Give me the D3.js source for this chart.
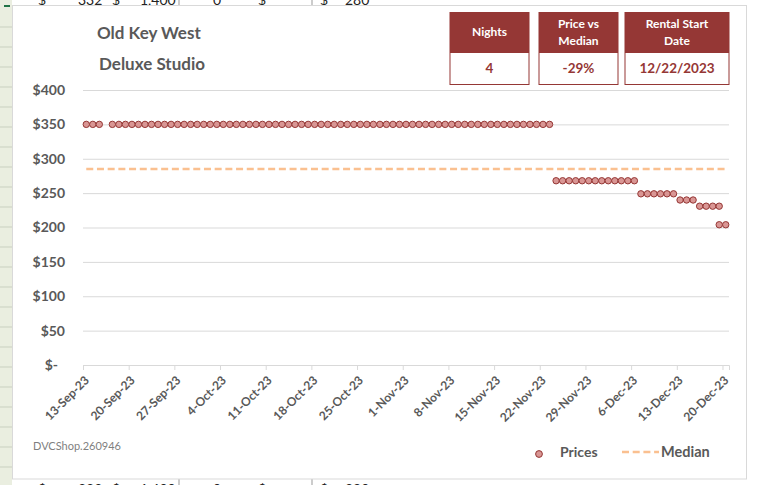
<!DOCTYPE html>
<html>
<head>
<meta charset="utf-8">
<script src="https://cdn.jsdelivr.net/npm/d3@7"></script>
<style>
  body { margin: 0; background: #fff; }
  svg { display: block; font-family: Lato, "Open Sans", sans-serif; }
</style>
</head>
<body>
<div id="chart"></div>
<script>
// data
var dates = [
  "09-13","09-14","09-15","09-17","09-18","09-19","09-20","09-21","09-22","09-23",
  "09-24","09-25","09-26","09-27","09-28","09-29","09-30","10-01","10-02","10-03",
  "10-04","10-05","10-06","10-07","10-08","10-09","10-10","10-11","10-12","10-13",
  "10-14","10-15","10-16","10-17","10-18","10-19","10-20","10-21","10-22","10-23",
  "10-24","10-25","10-26","10-27","10-28","10-29","10-30","10-31","11-01","11-02",
  "11-03","11-04","11-05","11-06","11-07","11-08","11-09","11-10","11-11","11-12",
  "11-13","11-14","11-15","11-16","11-17","11-18","11-19","11-20","11-21","11-22",
  "11-23","11-24","11-25","11-26","11-27","11-28","11-29","11-30","12-01","12-02",
  "12-03","12-04","12-05","12-06","12-07","12-08","12-09","12-10","12-11","12-12",
  "12-13","12-14","12-15","12-16","12-17","12-18","12-19","12-19","12-20"
];
var prices = [
  350,350,350,350,350,350,350,350,350,350,
  350,350,350,350,350,350,350,350,350,350,
  350,350,350,350,350,350,350,350,350,350,
  350,350,350,350,350,350,350,350,350,350,
  350,350,350,350,350,350,350,350,350,350,
  350,350,350,350,350,350,350,350,350,350,
  350,350,350,350,350,350,350,350,350,350,
  350,268,268,268,268,268,268,268,268,268,
  268,268,268,268,249,249,249,249,249,249,
  240,240,240,231,231,231,231,204,204
];
var medianPrice = 285;

var xTickLabels = ["13-Sep-23","20-Sep-23","27-Sep-23","4-Oct-23","11-Oct-23","18-Oct-23","25-Oct-23",
  "1-Nov-23","8-Nov-23","15-Nov-23","22-Nov-23","29-Nov-23","6-Dec-23","13-Dec-23","20-Dec-23"];
var yTicks = [0, 50, 100, 150, 200, 250, 300, 350, 400];
var yTickLabels = ["$-", "$50", "$100", "$150", "$200", "$250", "$300", "$350", "$400"];

var infoHeaders = [["Nights"], ["Price vs", "Median"], ["Rental Start", "Date"]];
var infoValues = ["4", "-29%", "12/22/2023"];

var parseDay = d3.utcParse("%Y-%m-%d");
var parseTick = d3.utcParse("%d-%b-%y");
var points = dates.map(function(d, i) {
  return { date: d3.utcHour.offset(parseDay("2023-" + d), 12), value: prices[i] };
});

var W = 757, H = 485;
var svg = d3.select("#chart").append("svg")
  .attr("width", W).attr("height", H);

// spreadsheet behind the chart
svg.append("rect").attr("width", W).attr("height", H).attr("fill", "#fff");
svg.append("rect").attr("x", 0).attr("y", 0).attr("width", 12).attr("height", H).attr("fill", "#eaeee0");
for (var ry = 27; ry < H; ry += 20) {
  svg.append("line").attr("x1", 0).attr("x2", 12).attr("y1", ry).attr("y2", ry)
    .attr("stroke", "#c9d0c0");
}
svg.append("rect").attr("x", 4).attr("y", 5).attr("width", 6).attr("height", 2).attr("fill", "#217346");

var cells = [["$", 38], ["332", 78], ["$", 112], ["1,400", 140], ["0", 213], ["$", 258], ["$", 320], ["280", 345]];
[5, 494].forEach(function(base) {
  cells.forEach(function(c) {
    svg.append("text").attr("x", c[1]).attr("y", base)
      .style("font-size", "14px").attr("fill", "#222").text(c[0]);
  });
  [179, 312].forEach(function(vx) {
    svg.append("line").attr("x1", vx).attr("x2", vx)
      .attr("y1", base < 100 ? 0 : 479).attr("y2", base < 100 ? 5 : H)
      .attr("stroke", "#999");
  });
});

// chart frame
svg.append("rect").attr("x", 12.5).attr("y", 5.5).attr("width", 734).attr("height", 473.5)
  .attr("fill", "#fff").attr("stroke", "#d9d9d9");

// scales
var x = d3.scaleUtc()
  .domain([parseDay("2023-09-13"), parseDay("2023-12-21")])
  .range([83, 729]);
var y = d3.scaleLinear().domain([0, 400]).range([365, 90]);

// gridlines
svg.append("g")
  .attr("class", "grid")
  .attr("transform", "translate(83,0)")
  .call(d3.axisLeft(y).tickValues(yTicks.slice(1)).tickSize(-(729 - 83)).tickFormat(""))
  .call(function(g) { g.select(".domain").remove(); });
svg.selectAll(".grid line").attr("stroke", "#d9d9d9");

// y labels
svg.append("g").selectAll("text")
  .data(yTicks)
  .join("text")
    .attr("x", function(d) { return d === 0 ? 58 : 65; })
    .attr("y", function(d) { return y(d); })
    .attr("dy", "0.35em")
    .attr("text-anchor", "end")
    .attr("fill", "#595959")
    .style("font-size", "14px").style("font-weight", "bold")
    .text(function(d, i) { return yTickLabels[i]; });

// x axis
var tickDates = xTickLabels.map(function(t) { return parseTick(t); });
var xAxis = svg.append("g")
  .attr("transform", "translate(0,365)")
  .call(d3.axisBottom(x).tickValues(tickDates).tickSize(5).tickFormat(""));
xAxis.selectAll("line, path").attr("stroke", "#d9d9d9");

svg.append("g").selectAll("text")
  .data(tickDates)
  .join("text")
    .attr("transform", function(d) { return "translate(" + (x(d) + 4) + ",378) rotate(-45)"; })
    .attr("dy", "0.35em")
    .attr("text-anchor", "end")
    .attr("fill", "#595959")
    .style("font-size", "12px").style("font-weight", "bold")
    .text(function(d, i) { return xTickLabels[i]; });

// median line
svg.append("path")
  .datum(points)
  .attr("fill", "none")
  .attr("stroke", "#fac090")
  .attr("stroke-width", 2.5)
  .attr("stroke-dasharray", "7,3.7")
  .attr("d", d3.line()
    .x(function(d) { return x(d.date); })
    .y(function() { return y(medianPrice); }));

// price markers
svg.append("g").selectAll("circle")
  .data(points)
  .join("circle")
    .attr("cx", function(d) { return x(d.date); })
    .attr("cy", function(d) { return y(d.value); })
    .attr("r", 3.2)
    .attr("fill", "#d99694")
    .attr("stroke", "#953735")
    .attr("stroke-width", 1);

// titles
svg.append("text").attr("x", 97).attr("y", 39)
  .attr("fill", "#595959").style("font-size", "17px").style("font-weight", "bold")
  .text("Old Key West");
svg.append("text").attr("x", 99).attr("y", 70)
  .attr("fill", "#595959").style("font-size", "17px").style("font-weight", "bold")
  .text("Deluxe Studio");

// info boxes
var boxes = [[449.5, 80], [538.5, 80], [624.5, 105]];
boxes.forEach(function(b, i) {
  svg.append("rect").attr("x", b[0]).attr("y", 12).attr("width", b[1]).attr("height", 40)
    .attr("fill", "#953735");
  svg.append("rect").attr("x", b[0] + 0.5).attr("y", 52.5).attr("width", b[1] - 1).attr("height", 32)
    .attr("fill", "#fff").attr("stroke", "#953735");
  var lines = infoHeaders[i];
  lines.forEach(function(t, j) {
    svg.append("text")
      .attr("x", b[0] + b[1] / 2)
      .attr("y", lines.length === 1 ? 32 : 24 + j * 16.5)
      .attr("dy", "0.35em")
      .attr("text-anchor", "middle")
      .attr("fill", "#fff")
      .style("font-size", "12px").style("font-weight", "bold")
      .text(t);
  });
  svg.append("text")
    .attr("x", b[0] + b[1] / 2).attr("y", 68.5)
    .attr("dy", "0.35em")
    .attr("text-anchor", "middle")
    .attr("fill", "#953735")
    .style("font-size", "13.5px").style("font-weight", "bold")
    .text(infoValues[i]);
});

// legend
svg.append("circle").attr("cx", 539).attr("cy", 454).attr("r", 3.4)
  .attr("fill", "#d99694").attr("stroke", "#953735");
svg.append("text").attr("x", 560).attr("y", 452).attr("dy", "0.35em")
  .attr("fill", "#595959").style("font-size", "14px").style("font-weight", "bold")
  .text("Prices");
svg.append("line").attr("x1", 622).attr("x2", 659).attr("y1", 452).attr("y2", 452)
  .attr("stroke", "#fac090").attr("stroke-width", 2.5).attr("stroke-dasharray", "7,3.7");
svg.append("text").attr("x", 661).attr("y", 452).attr("dy", "0.35em")
  .attr("fill", "#595959").style("font-size", "14.5px").style("font-weight", "bold")
  .text("Median");

// source note
svg.append("text").attr("x", 33).attr("y", 450)
  .attr("fill", "#7f7f7f").style("font-size", "11px")
  .text("DVCShop.260946");
</script>
</body>
</html>
